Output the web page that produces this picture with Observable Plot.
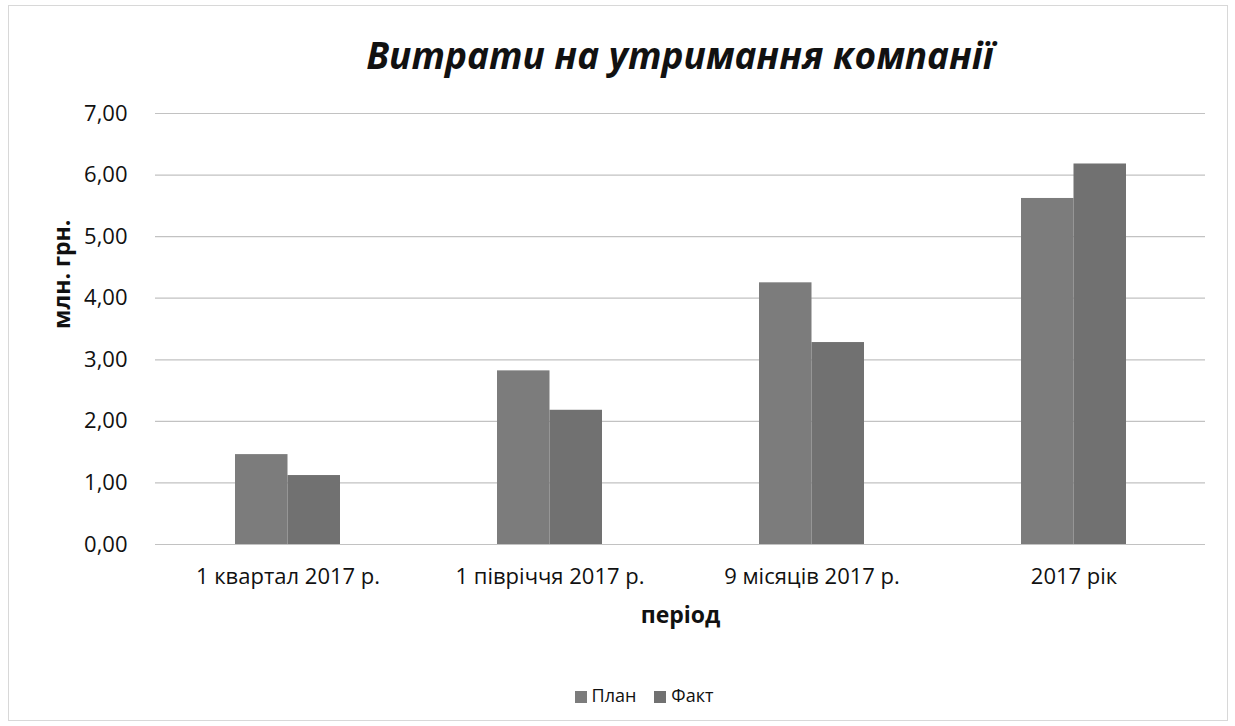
<!DOCTYPE html>
<html><head><meta charset="utf-8">
<script src="https://cdn.jsdelivr.net/npm/d3@7"></script>
<script src="https://cdn.jsdelivr.net/npm/@observablehq/plot@0.6"></script>
<style>
body{margin:0;background:#fff;font-family:"Open Sans",sans-serif;color:#111;}
#wrap{position:relative;width:1235px;height:726px;}
#frame{position:absolute;left:8px;top:5px;width:1220px;height:716px;border:1px solid #d8d8d8;box-sizing:border-box;}
#title{position:absolute;left:155px;width:1050px;top:30px;text-align:center;font-size:37px;font-weight:bold;font-style:italic;color:#111;line-height:50px;}
#chart{position:absolute;left:0;top:90px;}
#legend{position:absolute;left:0;width:1288px;top:683px;text-align:center;font-size:18px;}
.sw{display:inline-block;width:12px;height:12px;margin-right:5px;vertical-align:-1px;}
.it{margin:0 9px;}
</style></head>
<body><div id="wrap"><div id="frame"></div><div id="title"></div><div id="chart"></div><div id="legend"></div></div>
<script>
const title = "Витрати на утримання компанії";
const periods = ["1 квартал 2017 р.", "1 півріччя 2017 р.", "9 місяців 2017 р.", "2017 рік"];
const series = ["План", "Факт"];
const plan = [1.46, 2.82, 4.25, 5.62];
const fact = [1.12, 2.18, 3.28, 6.18];
const yTicks = [0, 1, 2, 3, 4, 5, 6, 7];
const yLabel = "млн. грн.";
const xLabel = "період";
const colors = ["#7c7c7c", "#717171"];

const planData = periods.map((p, i) => ({period: p, series: series[0], value: plan[i]}));
const factData = periods.map((p, i) => ({period: p, series: series[1], value: fact[i]}));
const fmt = d => d.toFixed(2).replace(".", ",");

document.getElementById("title").textContent = title;

const W = 1235, ML = 155, MR = 30, PI = 0.6, PO = 0.3;
const step = (W - ML - MR) / (periods.length - PI + 2 * PO);
const half = step * (1 - PI) / 2;

const chart = Plot.plot({
  width: W,
  height: 560,
  marginLeft: ML,
  marginRight: MR,
  marginTop: 23,
  marginBottom: 106,
  style: {fontFamily: "'Open Sans', sans-serif", fontSize: "22px", color: "#111", background: "transparent"},
  x: {domain: periods, paddingInner: PI, paddingOuter: PO, label: null},
  y: {domain: [0, 7], ticks: yTicks, tickFormat: fmt, label: null},
  color: {domain: series, range: colors},
  marks: [
    Plot.gridY(yTicks, {stroke: "#c2c2c2", strokeWidth: 1.2, strokeOpacity: 1}),
    Plot.axisY({ticks: yTicks, tickFormat: fmt, tickSize: 0, tickPadding: 28, label: null, fontSize: 22}),
    Plot.axisX({tickSize: 0, tickPadding: 24, label: null, fontSize: 22}),
    Plot.barY(planData, {x: "period", y: "value", fill: "series", insetRight: half}),
    Plot.barY(factData, {x: "period", y: "value", fill: "series", insetLeft: half}),
    Plot.text([yLabel], {text: d => d, frameAnchor: "left", rotate: -90, dx: -93, fontWeight: "bold", fontSize: 23}),
    Plot.text([xLabel], {text: d => d, frameAnchor: "bottom", dy: 78, fontWeight: "bold", fontSize: 23})
  ]
});
document.getElementById("chart").appendChild(chart);

const lg = document.getElementById("legend");
series.forEach((s, i) => {
  const span = document.createElement("span");
  span.className = "it";
  span.innerHTML = `<span class="sw" style="background:${colors[i]}"></span>${s}`;
  lg.appendChild(span);
});
</script></body></html>
